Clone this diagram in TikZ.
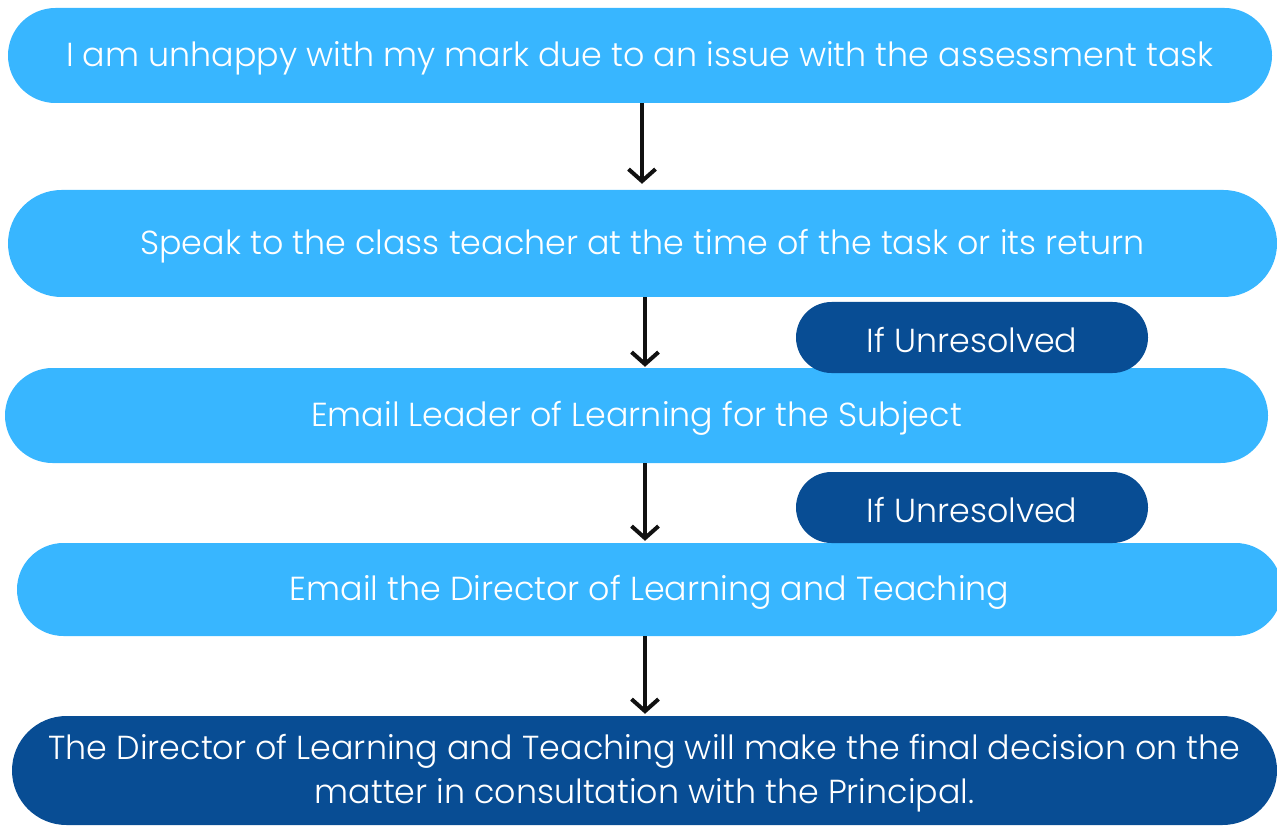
\documentclass[tikz,border=0pt]{standalone}
\usepackage{fontspec}
\setmainfont{Poppins}[UprightFont=* Light]
\usetikzlibrary{arrows.meta}
\definecolor{lightb}{HTML}{38B6FF}
\definecolor{darkb}{HTML}{084D94}
\definecolor{arrowc}{HTML}{111111}
\newcommand{\dnt}[1]{\raisebox{-3pt}[\height][\depth]{#1}}
\begin{document}
\begin{tikzpicture}[x=1pt,y=-1pt,
  pill/.style={fill=lightb, text=white, inner sep=0pt, align=center,
    font=\fontsize{33.3}{44}\selectfont},
  darkpill/.style={pill, fill=darkb},
  arr/.style={draw=arrowc, line width=4pt, -{Straight Barb[length=12pt,width=27pt]}}]
\useasboundingbox (0,0) rectangle (1277,826);
\node[pill, minimum width=1264pt, minimum height=95pt, rounded corners=47.5pt] (b1) at (640,55.5) {\dnt{I am unhappy with my mark due to an issue with the assessment task}};
\node[pill, minimum width=1269pt, minimum height=107pt, rounded corners=53.5pt] (b2) at (642.5,243.5) {\dnt{Speak to the class teacher at the time of the task or its return}};
\node[pill, minimum width=1263pt, minimum height=95pt, rounded corners=47.5pt] (b3) at (636.5,415.5) {\dnt{Email Leader of Learning for the Subject}};
\node[pill, minimum width=1265pt, minimum height=93pt, rounded corners=46.5pt] (b4) at (649.5,589.5) {\dnt{Email the Director of Learning and Teaching}};
\node[darkpill, minimum width=1265pt, minimum height=109pt, rounded corners=54.5pt] (b5) at (644.5,770.5) {\dnt{The Director of Learning and Teaching will make the final decision on the}\\\dnt{matter in consultation with the Principal.}};
\node[darkpill, minimum width=352pt, minimum height=71pt, rounded corners=35.5pt] (u1) at (972,337.5) {\dnt{If Unresolved}};
\node[darkpill, minimum width=352pt, minimum height=71pt, rounded corners=35.5pt] (u2) at (972,507.5) {\dnt{If Unresolved}};
\coordinate (x1) at (642,0);
\coordinate (x2) at (645,0);
\draw[arr, shorten >=6pt] (b1.south -| x1) -- (b2.north -| x1);
\draw[arr, shorten >=1pt] (b2.south -| x2) -- (b3.north -| x2);
\draw[arr, shorten >=2pt] (b3.south -| x2) -- (b4.north -| x2);
\draw[arr, shorten >=2pt] (b4.south -| x2) -- (b5.north -| x2);
\end{tikzpicture}
\end{document}
